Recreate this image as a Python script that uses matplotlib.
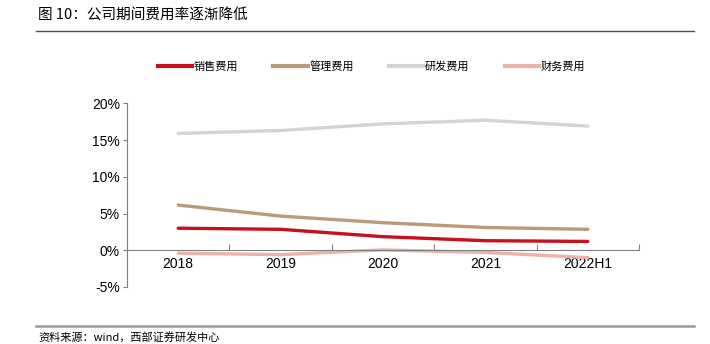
import matplotlib.pyplot as plt
from matplotlib.lines import Line2D

plt.rcParams['font.family'] = ['Liberation Sans', 'Noto Sans CJK SC', 'DejaVu Sans']

# data (percent)
years = ['2018', '2019', '2020', '2021', '2022H1']
sales = [3.0, 2.85, 1.85, 1.3, 1.2]
admin = [6.15, 4.65, 3.75, 3.1, 2.85]
rnd = [15.9, 16.3, 17.2, 17.7, 16.9]
finance = [-0.4, -0.6, 0.05, -0.3, -1.0]

series = [
    ('销售费用', sales, '#C8101E'),
    ('管理费用', admin, '#BC9A78'),
    ('研发费用', rnd, '#D4D4D4'),
    ('财务费用', finance, '#EDB3A8'),
]

fig = plt.figure(figsize=(7.1, 3.44), dpi=100)
ax = fig.add_axes([127 / 710, 57 / 344, 512 / 710, 183.7 / 344])

x = list(range(len(years)))
for name, vals, col in series:
    ax.plot(x, vals, color=col, linewidth=2.4, solid_capstyle='round',
            solid_joinstyle='round', label=name)

ax.set_xlim(-0.5, len(years) - 0.5)
ax.set_ylim(-5, 20)
ax.set_yticks([-5, 0, 5, 10, 15, 20])
ax.set_yticklabels([f'{v}%' for v in [-5, 0, 5, 10, 15, 20]], fontsize=10)

# x axis sits at zero, ticks between categories pointing up
ax.spines['bottom'].set_position(('data', 0))
ax.spines['top'].set_visible(False)
ax.spines['right'].set_visible(False)
for s in ('left', 'bottom'):
    ax.spines[s].set_color('#808080')
    ax.spines[s].set_linewidth(0.8)
ax.set_xticks([i - 0.5 for i in range(len(years) + 1)])
ax.set_xticklabels([])
ax.set_xticks(x, minor=True)
ax.set_xticklabels(years, minor=True, fontsize=10)
ax.tick_params(axis='x', which='major', direction='in', length=4, color='#808080')
ax.tick_params(axis='x', which='minor', length=0, pad=5)
ax.tick_params(axis='y', direction='out', length=3, color='#808080', pad=2)

handles = [Line2D([], [], color=c, linewidth=3) for _, _, c in series]
fig.legend(handles, [n for n, _, _ in series], loc='center', ncol=4,
           bbox_to_anchor=(0.523, 1 - 66 / 344), frameon=False,
           prop={'family': 'Noto Sans CJK SC', 'size': 8},
           handlelength=3.1, handletextpad=0.1, columnspacing=3.2)

# title, rules and source
fig.text(38 / 710, 1 - 16 / 344, '图 10：公司期间费用率逐渐降低', fontsize=10.5,
         family=['Noto Sans CJK SC', 'DejaVu Sans'], va='center', ha='left')
fig.add_artist(Line2D([36 / 710, 694 / 710], [1 - 31 / 344] * 2,
                      color='#505050', linewidth=1.0))
fig.add_artist(Line2D([36 / 710, 694 / 710], [1 - 326 / 344] * 2,
                      color='#999999', linewidth=1.8))
fig.text(38 / 710, 1 - 337 / 344, '资料来源：wind，西部证券研发中心', fontsize=8,
         family=['Noto Sans CJK SC', 'DejaVu Sans'], va='center', ha='left')

fig.savefig('out.png', dpi=100)
